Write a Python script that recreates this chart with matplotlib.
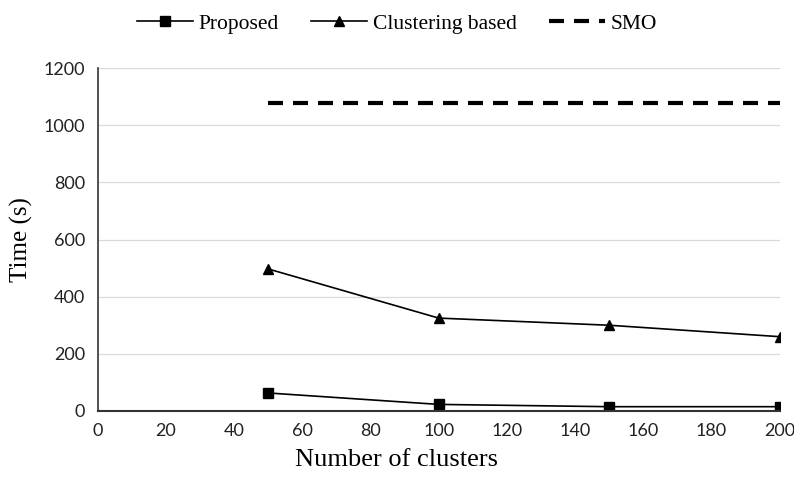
import matplotlib
matplotlib.use('Agg')
import matplotlib.pyplot as plt

# data
clusters = [50, 100, 150, 200]
proposed = [63, 23, 15, 15]
clustering_based = [497, 325, 300, 260]
smo = [1076, 1076, 1076, 1076]

xticks = list(range(0, 201, 20))
yticks = list(range(0, 1201, 200))

fig = plt.figure(figsize=(7.94, 4.79), dpi=100)
ax = fig.add_axes([0.123, 0.142, 0.859, 0.716])

ax.plot(clusters, proposed, color='black', lw=1.2, marker='s', ms=7, label='Proposed')
ax.plot(clusters, clustering_based, color='black', lw=1.2, marker='^', ms=7, label='Clustering based')
ax.plot(clusters, smo, color='black', lw=3, ls=(0, (3.6, 2.4)), label='SMO')

ax.set_xlim(0, 200)
ax.set_ylim(0, 1200)
ax.set_xticks(xticks)
ax.set_yticks(yticks)
ax.tick_params(length=0, labelsize=13, pad=9)
for lab in ax.get_xticklabels() + ax.get_yticklabels():
    lab.set_fontfamily('Lato')
    lab.set_color('#222222')

ax.grid(axis='y', color='#d9d9d9', lw=0.9)
ax.set_axisbelow(True)
for s in ['top', 'right']:
    ax.spines[s].set_visible(False)
ax.spines['left'].set_color('#333333')
ax.spines['bottom'].set_color('#333333')
ax.spines['left'].set_linewidth(1.2)
ax.spines['bottom'].set_linewidth(1.5)

ax.set_xlabel('Number of clusters', family='Liberation Serif', fontsize=19)
ax.xaxis.set_label_coords(0.438, -0.11)
ax.set_ylabel('Time (s)', family='Liberation Serif', fontsize=18, labelpad=8)

fig.legend(loc='upper center', bbox_to_anchor=(0.5, 1.012), ncol=3, frameon=False,
           prop={'family': 'Liberation Serif', 'size': 15.5}, handlelength=2.6,
           columnspacing=1.5, handletextpad=0.25)

fig.savefig('out.png', dpi=100)
